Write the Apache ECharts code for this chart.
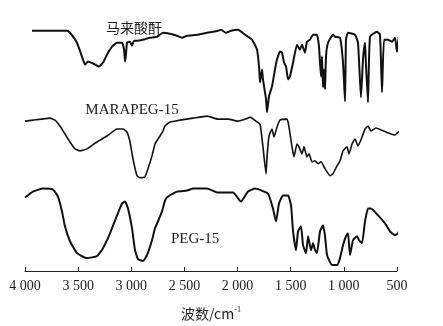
<!DOCTYPE html>
<html>
<head>
<meta charset="utf-8">
<script src="https://cdn.jsdelivr.net/npm/echarts@6/dist/echarts.min.js"></script>
<style>
  html, body { margin: 0; padding: 0; background: #fff; }
  #chart { width: 443px; height: 326px; }
</style>
</head>
<body>
<div id="chart"></div>
<script>
// IR spectra, wavenumber (cm^-1) vs. stacked transmittance (arbitrary units)
const seriesNames = ['马来酸酐', 'MARAPEG-15', 'PEG-15'];

const maleicAnhydride = [
  [3934, 242], [3605, 242], [3577, 240], [3511, 230], [3464, 216], [3435, 208],
  [3407, 211], [3360, 209], [3304, 206], [3266, 210], [3228, 218], [3181, 226],
  [3134, 230], [3087, 230], [3068, 223], [3059, 211], [3050, 218], [3040, 230],
  [3012, 231], [2993, 227], [2974, 232], [2946, 232], [2890, 233], [2824, 235],
  [2758, 236], [2702, 240], [2636, 239], [2570, 237], [2523, 235], [2476, 237],
  [2382, 238], [2288, 240], [2231, 241], [2184, 242], [2156, 243], [2109, 240],
  [2062, 242], [1996, 243], [1930, 238], [1902, 236], [1864, 233], [1817, 223],
  [1798, 206], [1789, 190], [1770, 203], [1761, 193], [1732, 173], [1723, 160],
  [1704, 176], [1676, 186], [1648, 203], [1629, 213], [1601, 221], [1582, 220],
  [1563, 210], [1544, 206], [1525, 193], [1507, 196], [1478, 210], [1441, 228],
  [1413, 223], [1394, 228], [1366, 220], [1347, 231], [1319, 233], [1290, 238],
  [1253, 238], [1234, 226], [1215, 196], [1206, 216], [1196, 185], [1187, 203],
  [1177, 183], [1168, 216], [1149, 230], [1102, 238], [1083, 236], [1036, 235],
  [1008, 210], [989, 171], [980, 233], [961, 240], [895, 238], [867, 230],
  [839, 175], [820, 213], [801, 230], [792, 208], [773, 170], [754, 236],
  [688, 241], [660, 238], [641, 180], [622, 233], [585, 233], [547, 231],
  [519, 235], [500, 221], [481, 236], [406, 238]
];

const marapeg15 = [
  [4000, 151], [3925, 152], [3765, 154], [3718, 152], [3671, 146], [3624, 138],
  [3577, 130], [3530, 123], [3483, 121], [3417, 123], [3323, 130], [3228, 136],
  [3134, 143], [3078, 143], [3040, 140], [3012, 130], [2984, 113], [2946, 96],
  [2918, 94], [2871, 95], [2843, 103], [2805, 116], [2777, 128], [2749, 133],
  [2730, 136], [2702, 141], [2683, 146], [2636, 150], [2542, 152], [2419, 154],
  [2288, 156], [2184, 153], [2090, 153], [1996, 151], [1902, 154], [1883, 155],
  [1827, 151], [1789, 148], [1761, 125], [1732, 98], [1723, 115], [1704, 136],
  [1676, 143], [1657, 135], [1629, 145], [1601, 152], [1535, 153], [1516, 145],
  [1488, 125], [1469, 115], [1441, 128], [1422, 125], [1394, 118], [1375, 125],
  [1347, 115], [1328, 118], [1300, 110], [1271, 111], [1243, 108], [1215, 110],
  [1177, 103], [1130, 96], [1102, 98], [1064, 106], [1036, 111], [1008, 121],
  [970, 125], [952, 118], [923, 128], [895, 133], [867, 126], [829, 135],
  [801, 143], [773, 146], [744, 141], [697, 144], [650, 142], [603, 140],
  [556, 138], [519, 137], [490, 140], [443, 143], [406, 145]
];

const peg15 = [
  [4000, 74], [3925, 80], [3831, 83], [3737, 82], [3690, 75], [3652, 60],
  [3624, 45], [3577, 30], [3511, 18], [3417, 13], [3323, 15], [3266, 23],
  [3200, 38], [3134, 56], [3087, 68], [3059, 70], [3031, 63], [2993, 43],
  [2965, 21], [2937, 12], [2890, 10], [2852, 16], [2805, 31], [2777, 43],
  [2749, 50], [2711, 60], [2683, 71], [2655, 75], [2570, 80], [2476, 81],
  [2419, 83], [2288, 83], [2184, 79], [2043, 79], [1968, 70], [1902, 80],
  [1836, 83], [1714, 78], [1667, 63], [1638, 50], [1610, 68], [1573, 76],
  [1525, 76], [1497, 66], [1478, 40], [1450, 21], [1431, 40], [1403, 45],
  [1384, 26], [1356, 18], [1337, 35], [1309, 21], [1290, 28], [1271, 21],
  [1253, 18], [1224, 40], [1196, 46], [1177, 35], [1158, 16], [1111, 6],
  [1064, 6], [1036, 13], [1008, 26], [980, 35], [961, 38], [942, 16],
  [914, 31], [876, 35], [857, 31], [829, 28], [801, 50], [773, 63],
  [744, 63], [678, 56], [613, 48], [566, 40], [519, 36], [490, 38],
  [462, 45], [415, 53]
];

// x-axis ticks (cm^-1)
const xTicks = [4000, 3500, 3000, 2500, 2000, 1500, 1000, 500];

// curve captions, placed in data coordinates
const captions = [
  { name: seriesNames[0], coord: [2974, 245] },
  { name: seriesNames[1], coord: [2993, 162] },
  { name: seriesNames[2], coord: [2400, 32] }
];

const spectra = [maleicAnhydride, marapeg15, peg15];
const widths = [2, 1.6, 2];

function groupThousands(v) {
  const s = String(v);
  return s.length > 3 ? s.slice(0, s.length - 3) + ' ' + s.slice(-3) : s;
}

const chart = echarts.init(document.getElementById('chart'), null, { renderer: 'canvas' });

chart.setOption({
  animation: false,
  backgroundColor: '#fff',
  grid: { left: 25, right: 46, top: 0, bottom: 53, containLabel: false },
  xAxis: {
    type: 'value',
    inverse: true,
    min: 500,
    max: 4000,
    interval: 500,
    name: '波数/cm{sup|-1}',
    nameLocation: 'middle',
    nameGap: 35,
    nameTextStyle: {
      fontFamily: '"Noto Sans CJK SC", "Liberation Serif", serif',
      fontSize: 14,
      color: '#222',
      rich: {
        sup: { fontSize: 8, verticalAlign: 'top', padding: [0, 0, 8, 0], color: '#222', fontFamily: '"Liberation Serif", serif' }
      }
    },
    axisLine: { show: true, lineStyle: { color: '#222', width: 1 } },
    axisTick: { show: true, inside: true, length: 4, lineStyle: { color: '#222' } },
    axisLabel: {
      margin: 8,
      fontFamily: '"Liberation Serif", serif',
      fontSize: 14,
      color: '#222',
      formatter: function (v) { return xTicks.indexOf(v) >= 0 ? groupThousands(v) : ''; }
    },
    splitLine: { show: false }
  },
  yAxis: {
    type: 'value',
    min: 0,
    max: 273,
    show: false
  },
  series: spectra.map(function (data, i) {
    const cap = captions[i];
    return {
      name: seriesNames[i],
      type: 'line',
      data: data,
      clip: false,
      showSymbol: false,
      symbol: 'none',
      smooth: 0.15,
      lineStyle: { color: '#111', width: widths[i] },
      markPoint: {
        symbol: 'circle',
        symbolSize: 0,
        data: [{ name: cap.name, coord: cap.coord }],
        label: {
          show: true,
          position: 'inside',
          formatter: '{b}',
          fontFamily: i === 0 ? '"Noto Sans CJK SC", sans-serif' : '"Liberation Serif", serif',
          fontSize: i === 0 ? 14 : 15,
          color: '#222'
        }
      }
    };
  })
});
</script>
</body>
</html>
